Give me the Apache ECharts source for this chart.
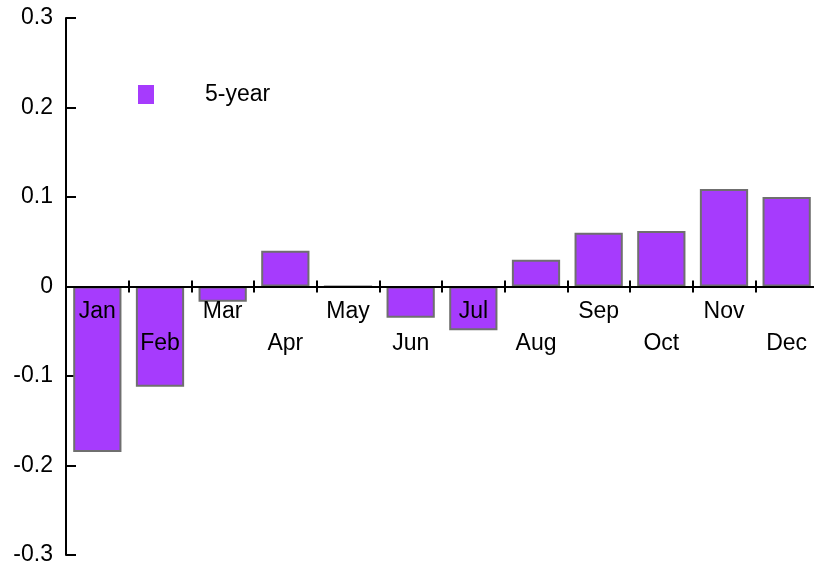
<!DOCTYPE html>
<html>
<head>
<meta charset="utf-8">
<script src="https://cdn.jsdelivr.net/npm/echarts@6/dist/echarts.min.js"></script>
<style>
  html, body { margin: 0; padding: 0; background: #fff; }
  #chart { width: 814px; height: 567px; }
</style>
</head>
<body>
<div id="chart"></div>
<script>
var months = ['Jan', 'Feb', 'Mar', 'Apr', 'May', 'Jun', 'Jul', 'Aug', 'Sep', 'Oct', 'Nov', 'Dec']
var fiveYear = [-0.185, -0.112, -0.017, 0.04, 0, -0.035, -0.049, 0.03, 0.06, 0.062, 0.109, 0.1]
var yTicks = { min: -0.3, max: 0.3, step: 0.1 }

var font = 'Liberation Sans, Arial, Helvetica, sans-serif'
var gridTop = 18, gridBottom = 12, H = 567
// move the category axis from the bottom of the grid up to the zero line
var zeroShift = -((H - gridTop - gridBottom) * (0 - yTicks.min) / (yTicks.max - yTicks.min))

var chart = echarts.init(document.getElementById('chart'))

chart.setOption({
  animation: false,
  grid: { left: 66, right: -4, top: gridTop, bottom: gridBottom, outerBoundsMode: 'none' },
  legend: {
    left: 133,
    top: 78,
    itemWidth: 16,
    itemHeight: 19,
    icon: 'rect',
    itemStyle: { borderWidth: 0 },
    textStyle: { fontFamily: font, fontSize: 23, color: '#000', padding: [3, 0, 0, 46] },
    data: ['5-year']
  },
  xAxis: [
    {
      type: 'category',
      data: months,
      position: 'bottom',
      offset: zeroShift,
      axisLine: { onZero: false, lineStyle: { color: '#000', width: 2 } },
      axisTick: { show: true, inside: false, length: 6, lineStyle: { color: '#000', width: 2 } },
      axisLabel: {
        interval: 0,
        margin: 9,
        color: '#000',
        fontFamily: font,
        fontSize: 23,
        lineHeight: 32,
        formatter: function (v, i) { return i % 2 ? '\n' + v : v }
      },
      z: 5
    },
    {
      type: 'category',
      data: months,
      position: 'bottom',
      offset: zeroShift,
      axisLine: { show: false, onZero: false },
      axisTick: { show: true, inside: true, length: 6, lineStyle: { color: '#000', width: 2 } },
      axisLabel: { show: false },
      z: 5
    }
  ],
  yAxis: {
    type: 'value',
    min: yTicks.min,
    max: yTicks.max,
    interval: yTicks.step,
    splitLine: { show: false },
    axisLine: { show: true, lineStyle: { color: '#000', width: 2 } },
    axisTick: { show: true, inside: true, length: 10, lineStyle: { color: '#000', width: 2 } },
    axisLabel: {
      margin: 13,
      color: '#000',
      fontFamily: font,
      fontSize: 23,
      formatter: function (v) { return String(Math.round(v * 10) / 10) }
    }
  },
  series: [
    {
      name: '5-year',
      type: 'bar',
      data: fiveYear,
      barCategoryGap: '23%',
      itemStyle: { color: '#a63bfd', borderColor: '#6f6f6f', borderWidth: 2 }
    }
  ]
})
</script>
</body>
</html>
